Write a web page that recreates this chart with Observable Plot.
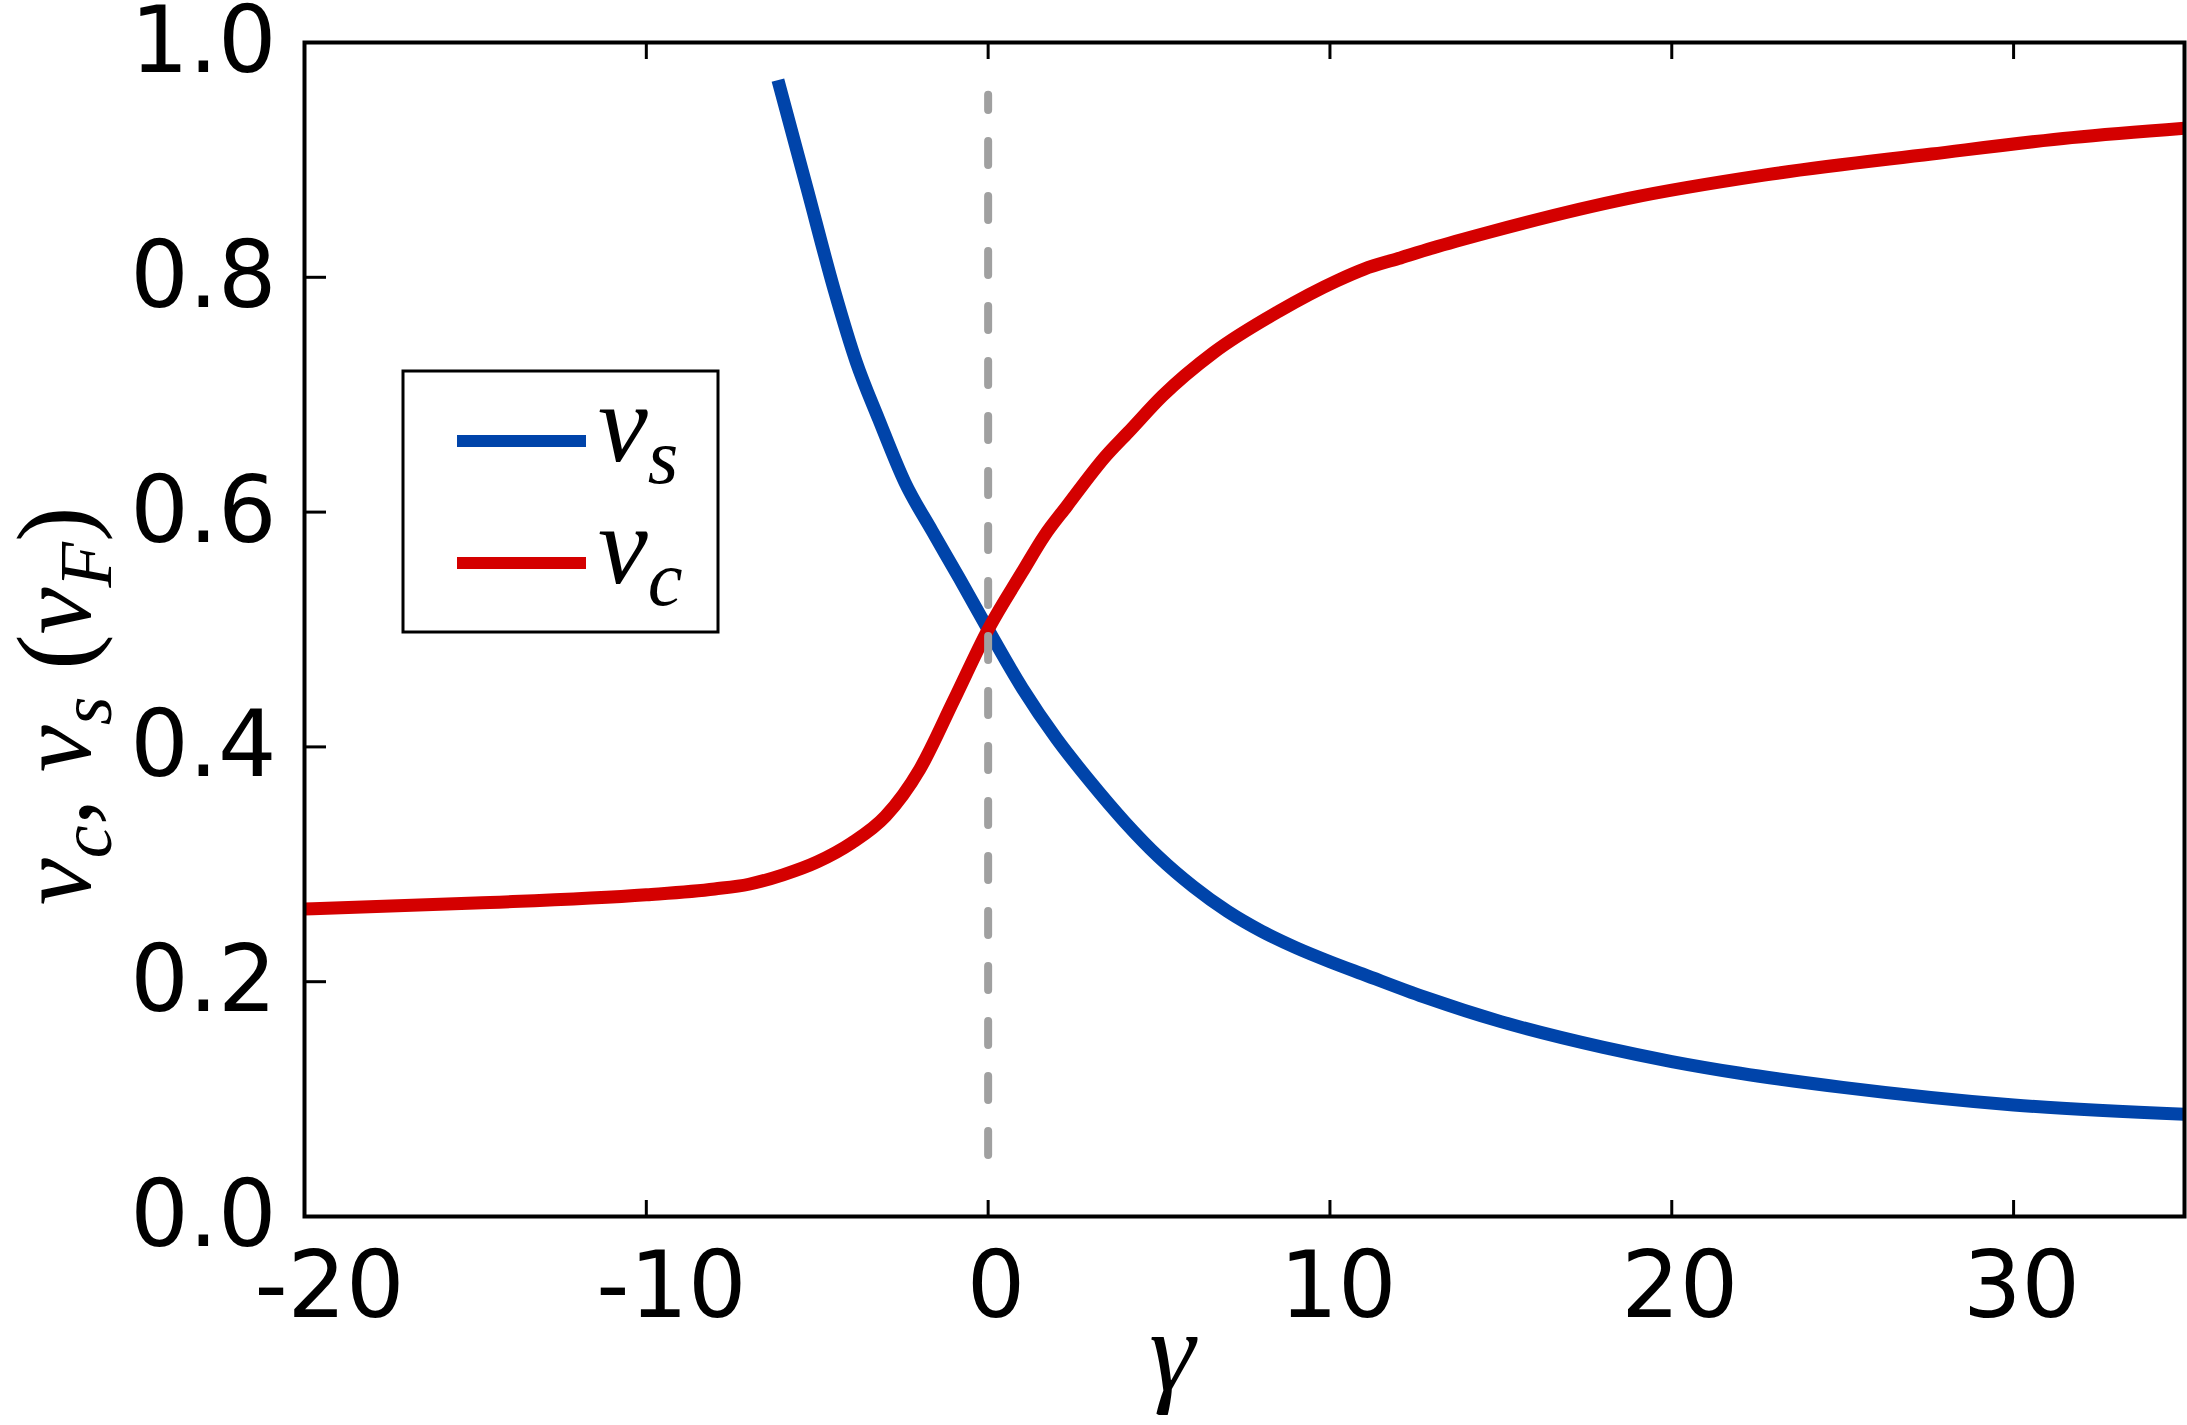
<!DOCTYPE html>
<html>
<head>
<meta charset="utf-8">
<script src="https://cdn.jsdelivr.net/npm/d3@7"></script>
<script src="https://cdn.jsdelivr.net/npm/@observablehq/plot@0.6"></script>
<style>
  html, body { margin: 0; padding: 0; background: #ffffff; }
  #chart { width: 2187px; height: 1425px; }
</style>
</head>
<body>
<div id="chart"></div>
<script>
// ---- data ----
const gammaS = [-6.15, -5.3, -4.5, -3.86, -3.2, -2.43, -1.64, -0.85, 0, 1.0, 2.0, 3.0, 4.0, 5.0, 6.0, 7.0, 8.0, 9.0, 10, 11, 12.75, 15, 18, 20, 22, 25, 30, 35];
const vS     = [0.968, 0.876, 0.789, 0.728, 0.679, 0.625, 0.584, 0.544, 0.500, 0.450, 0.407, 0.370, 0.336, 0.306, 0.281, 0.260, 0.243, 0.229, 0.217, 0.206, 0.187, 0.166, 0.144, 0.132, 0.122, 0.110, 0.095, 0.087];

const gammaC = [-20, -15, -10, -8, -7, -6, -5, -4, -3, -2, -1, 0, 1.0, 1.65, 2.3, 3.45, 4.1, 5.1, 6.6, 8.5, 10.2, 11, 12, 13, 14.6, 18.7, 22.7, 27.6, 31.7, 35];
const vC     = [0.262, 0.267, 0.274, 0.279, 0.283, 0.291, 0.302, 0.318, 0.341, 0.381, 0.440, 0.500, 0.549, 0.580, 0.605, 0.648, 0.668, 0.699, 0.736, 0.771, 0.797, 0.807, 0.816, 0.825, 0.838, 0.867, 0.887, 0.905, 0.919, 0.927];

const xTicks = [-20, -10, 0, 10, 20, 30];
const yTicks = [0.0, 0.2, 0.4, 0.6, 0.8, 1.0];

const dashGamma = [0];
const dashSpan = [0.052, 0.955];

const seriesBase = ["v", "v"];
const seriesSub  = ["s", "c"];
const seriesColor = ["#0044aa", "#d40000"];

// ---- build tables ----
const sData = gammaS.map((g, i) => ({g, v: vS[i]}));
const cData = gammaC.map((g, i) => ({g, v: vC[i]}));
const fmtX = d => String(d);

const plot = Plot.plot({
  width: 2187,
  height: 1425,
  marginLeft: 304,
  marginRight: 3,
  marginTop: 42,
  marginBottom: 209,
  x: {domain: [-20, 35]},
  y: {domain: [0, 1]},
  style: {fontFamily: "'DejaVu Sans', sans-serif", fontSize: "92px", color: "black", background: "white", overflow: "visible"},
  marks: [
    Plot.line(sData, {x: "g", y: "v", stroke: seriesColor[0], strokeWidth: 13, curve: "monotone-x", strokeLinecap: "butt"}),
    Plot.line(cData, {x: "g", y: "v", stroke: seriesColor[1], strokeWidth: 13, curve: "monotone-x", strokeLinecap: "butt"}),
    Plot.ruleX(dashGamma, {x: d => d, y1: dashSpan[0], y2: dashSpan[1], stroke: "#a0a0a0", strokeWidth: 8, strokeDasharray: "24,31", strokeLinecap: "round"}),
    Plot.frame({stroke: "black", strokeWidth: 4}),
    // tick marks (inward)
    Plot.axisX({anchor: "bottom", ticks: xTicks, tickSize: -16, strokeWidth: 3, fill: "none", label: null}),
    Plot.axisX({anchor: "top", ticks: xTicks, tickSize: -16, strokeWidth: 3, fill: "none", label: null}),
    Plot.axisY({anchor: "left", ticks: yTicks, tickSize: -22, strokeWidth: 3, fill: "none", label: null}),
    // tick labels
    Plot.axisX({anchor: "bottom", ticks: xTicks.filter(t => t < 0), tickSize: 0, tickPadding: 35, dx: 25, tickFormat: fmtX, label: null}),
    Plot.axisX({anchor: "bottom", ticks: xTicks.filter(t => t >= 0), tickSize: 0, tickPadding: 35, dx: 8, tickFormat: fmtX, label: null}),
    Plot.axisY({anchor: "left", ticks: yTicks, tickSize: 0, tickPadding: 28, tickFormat: d3.format(".1f"), label: null})
  ]
});

document.getElementById("chart").appendChild(plot);

// ---- legend & math labels ----
const svg = d3.select(plot);
const serif = "'Liberation Serif', 'DejaVu Serif', serif";

function mathText(parent, parts, size) {
  const t = parent.append("text")
    .attr("font-family", serif)
    .attr("font-size", size)
    .attr("fill", "black");
  let shifted = 0;
  parts.forEach(p => {
    const ts = t.append("tspan").text(p.t);
    if (p.sub) {
      ts.attr("font-size", size * 0.7).attr("font-style", "italic").attr("dy", size * 0.2 - shifted);
      shifted = size * 0.2;
    } else {
      ts.attr("font-style", p.up ? "normal" : "italic");
      if (shifted) { ts.attr("dy", -shifted); shifted = 0; }
    }
  });
  return t;
}

const leg = svg.append("g");
leg.append("rect")
  .attr("x", 403).attr("y", 371).attr("width", 315).attr("height", 261)
  .attr("fill", "white").attr("stroke", "black").attr("stroke-width", 3);
seriesBase.forEach((b, i) => {
  const yy = 441 + i * 122;
  leg.append("line")
    .attr("x1", 457).attr("x2", 586).attr("y1", yy).attr("y2", yy)
    .attr("stroke", seriesColor[i]).attr("stroke-width", 12);
  mathText(leg, [{t: b}, {t: seriesSub[i], sub: true}], 112)
    .attr("x", 598).attr("y", yy + 20).attr("text-anchor", "start");
});

// x label
mathText(svg.append("g"), [{t: "γ"}], 116)
  .attr("x", 1172).attr("y", 1390).attr("text-anchor", "middle");

// y label
const yl = svg.append("g").attr("transform", "translate(90,706) rotate(-90)");
mathText(yl, [
  {t: "v"}, {t: "c", sub: true}, {t: ", ", up: true},
  {t: "v"}, {t: "s", sub: true}, {t: " (", up: true},
  {t: "v"}, {t: "F", sub: true}, {t: ")", up: true}
], 106).attr("x", 0).attr("y", 0).attr("text-anchor", "middle");
</script>
</body>
</html>
